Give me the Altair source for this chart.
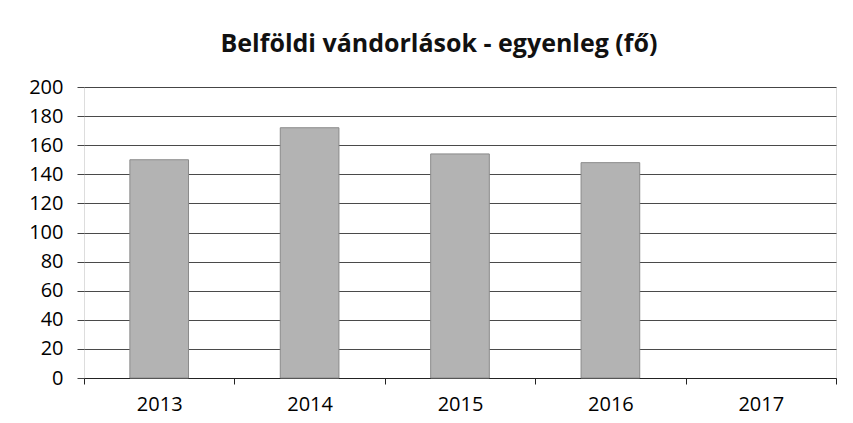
import altair as alt
import pandas as pd

years = ["2013", "2014", "2015", "2016", "2017"]
values = [150, 172, 154, 148, None]

df = pd.DataFrame({"ev": years, "fo": values})

chart = alt.Chart(df).mark_bar(
    color="#b3b3b3", stroke="#8a8a8a", strokeWidth=1,
    width=alt.RelativeBandSize(0.39)
).encode(
    x=alt.X("ev:N", sort=years,
            scale=alt.Scale(paddingInner=0, paddingOuter=0),
            axis=alt.Axis(title=None, labelAngle=0, tickBand="extent",
                          labelFont="Open Sans", labelFontSize=20, labelColor="#000",
                          tickSize=6, tickColor="#222", domainColor="#222",
                          labelPadding=10, grid=False)),
    y=alt.Y("fo:Q", scale=alt.Scale(domain=[0, 200]),
            axis=alt.Axis(title=None, values=list(range(0, 201, 20)),
                          labelFont="Open Sans", labelFontSize=20, labelColor="#000",
                          tickSize=7, tickColor="#444", labelPadding=14,
                          domain=False, grid=True, gridColor="#2a2a2a",
                          gridWidth=1, gridOpacity=0.85)),
).properties(
    width=752, height=291,
    title=alt.TitleParams("Belföldi vándorlások - egyenleg (fő)",
                          font="Open Sans", fontSize=25, fontWeight="bold",
                          color="#111", anchor="middle", dx=-21, offset=20),
    autosize="none",
    padding={"left": 76, "top": 79, "right": 9, "bottom": 37},
).configure_view(stroke=None).configure(background="white")

chart.save("out.html", embed_options={"renderer": "svg", "actions": False})
